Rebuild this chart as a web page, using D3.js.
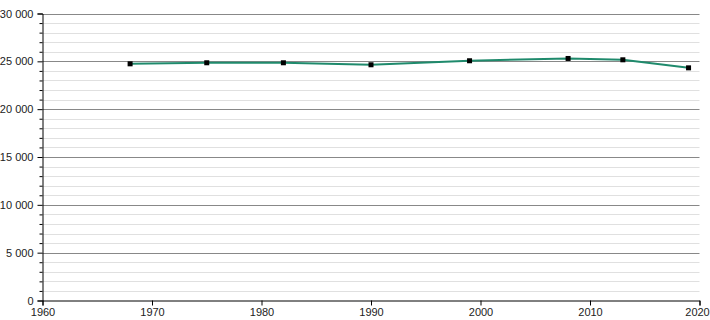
<!DOCTYPE html>
<html>
<head>
<meta charset="utf-8">
<script src="https://cdn.jsdelivr.net/npm/d3@7"></script>
<style>
  body { margin: 0; background: #fff; }
  text { font-family: "Liberation Sans", Arial, sans-serif; font-size: 11px; fill: #222; }
</style>
</head>
<body>
<div id="chart"></div>
<script>
// census years and population
var years = [1968, 1975, 1982, 1990, 1999, 2008, 2013, 2019];
var population = [24740, 24850, 24850, 24640, 25060, 25300, 25160, 24320];

var xTicks = [1960, 1970, 1980, 1990, 2000, 2010, 2020];
var yTicks = [0, 5000, 10000, 15000, 20000, 25000, 30000];

var width = 710,
    height = 320,
    plotLeft = 42.5,
    plotRight = 699.5,
    plotTop = 13.5,
    plotBottom = 300.5;

var x = d3.scaleLinear().domain([1960, 2020]).range([plotLeft, plotRight]);
var y = d3.scaleLinear().domain([0, 30000]).range([plotBottom, plotTop]);

var fmt = function(d) { return d3.format(",")(d).replace(/,/g, " "); };

var svg = d3.select("#chart").append("svg")
    .attr("width", width)
    .attr("height", height);

// minor grid every 1000
var minor = d3.range(1000, 30001, 1000).filter(function(d) { return d % 5000 != 0; });
svg.append("g").selectAll("line")
    .data(minor)
    .enter().append("line")
      .attr("x1", plotLeft).attr("x2", plotRight)
      .attr("y1", function(d) { return Math.round(y(d)) + 0.5; })
      .attr("y2", function(d) { return Math.round(y(d)) + 0.5; })
      .attr("stroke", "#e0e0e0");

// major grid
svg.append("g").selectAll("line")
    .data(yTicks.filter(function(d) { return d > 0; }))
    .enter().append("line")
      .attr("x1", plotLeft).attr("x2", plotRight)
      .attr("y1", function(d) { return Math.round(y(d)) + 0.5; })
      .attr("y2", function(d) { return Math.round(y(d)) + 0.5; })
      .attr("stroke", "#888");

// y axis: minor ticks then major ticks with labels
var yMinor = svg.append("g").attr("transform", "translate(" + plotLeft + ",0)")
    .call(d3.axisLeft(y).tickValues(minor).tickSize(3).tickFormat(""));
yMinor.select(".domain").remove();
var yMajor = svg.append("g").attr("transform", "translate(" + plotLeft + ",0)")
    .call(d3.axisLeft(y).tickValues(yTicks).tickSize(5).tickPadding(4).tickFormat(fmt));

// x axis
var xAxis = svg.append("g").attr("transform", "translate(0," + plotBottom + ")")
    .call(d3.axisBottom(x).tickValues(xTicks).tickSize(5).tickPadding(3).tickFormat(d3.format("d")));
// last label sits against the right edge, nudge it in
xAxis.selectAll(".tick text").filter(function(d) { return d == 2020; }).attr("dx", "-2.5");

svg.selectAll(".domain").attr("stroke", "#000");
svg.selectAll(".tick line").attr("stroke", "#000");
svg.selectAll(".tick text").attr("fill", "#222");
svg.selectAll("g").attr("font-family", null).attr("font-size", null);

// population line
var data = years.map(function(d, i) { return { year: d, value: population[i] }; });
var line = d3.line()
    .x(function(d) { return x(d.year); })
    .y(function(d) { return y(d.value); });

svg.append("path")
    .datum(data)
    .attr("d", line)
    .attr("fill", "none")
    .attr("stroke", "#1f8a6c")
    .attr("stroke-width", 2);

// census markers
svg.append("g").selectAll("rect")
    .data(data)
    .enter().append("rect")
      .attr("x", function(d) { return x(d.year) - 2.5; })
      .attr("y", function(d) { return y(d.value) - 2.5; })
      .attr("width", 5)
      .attr("height", 5)
      .attr("fill", "#000");
</script>
</body>
</html>
